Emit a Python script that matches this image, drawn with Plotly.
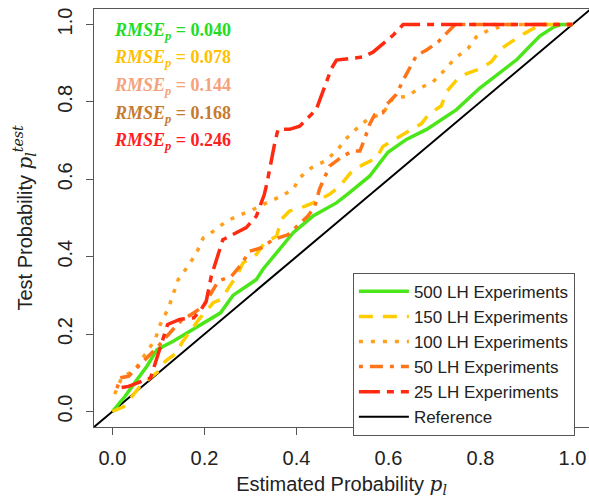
import plotly.graph_objects as go

# ---------------- data ----------------
x_500 = [0.0, 0.028, 0.054, 0.075, 0.097, 0.133, 0.162, 0.198, 0.235, 0.262, 0.313, 0.327,
         0.364, 0.393, 0.436, 0.487, 0.516, 0.559, 0.599, 0.639, 0.683, 0.748, 0.798, 0.835,
         0.88, 0.9, 0.929, 0.96, 0.975, 1.0]
y_500 = [0.0, 0.04, 0.083, 0.117, 0.16, 0.182, 0.203, 0.229, 0.255, 0.3, 0.341, 0.367,
         0.42, 0.462, 0.505, 0.539, 0.566, 0.608, 0.67, 0.703, 0.729, 0.78, 0.835, 0.869,
         0.91, 0.935, 0.97, 0.994, 1.0, 1.0]

x_150 = [0.0, 0.025, 0.06, 0.1, 0.115, 0.14, 0.151, 0.177, 0.188, 0.219, 0.237, 0.255, 0.27,
         0.284, 0.313, 0.331, 0.357, 0.367, 0.385, 0.418, 0.436, 0.472, 0.494, 0.52, 0.545,
         0.574, 0.588, 0.614, 0.639, 0.672, 0.686, 0.715, 0.726, 0.748, 0.77, 0.8, 0.824,
         0.846, 0.867, 0.896, 0.922, 0.94, 1.0]
y_150 = [0.0, 0.013, 0.065, 0.104, 0.13, 0.152, 0.178, 0.22, 0.238, 0.281, 0.29, 0.324, 0.35,
         0.384, 0.406, 0.436, 0.453, 0.496, 0.518, 0.53, 0.539, 0.561, 0.582, 0.62, 0.638,
         0.655, 0.685, 0.703, 0.72, 0.744, 0.766, 0.79, 0.826, 0.856, 0.873, 0.886, 0.904,
         0.938, 0.955, 0.977, 0.994, 1.0, 1.0]

x_100 = [0.005, 0.02, 0.032, 0.05, 0.061, 0.093, 0.104, 0.122, 0.143, 0.164, 0.183, 0.197,
         0.222, 0.248, 0.28, 0.306, 0.335, 0.364, 0.393, 0.407, 0.433, 0.462, 0.487, 0.509,
         0.53, 0.556, 0.588, 0.61, 0.639, 0.668, 0.697, 0.722, 0.744, 0.773, 0.791, 0.817,
         0.86, 1.0]
y_100 = [0.045, 0.087, 0.096, 0.109, 0.13, 0.186, 0.225, 0.268, 0.341, 0.375, 0.41, 0.448,
         0.468, 0.492, 0.509, 0.522, 0.539, 0.555, 0.574, 0.604, 0.63, 0.647, 0.673, 0.706,
         0.73, 0.756, 0.77, 0.81, 0.814, 0.835, 0.852, 0.882, 0.912, 0.938, 0.968, 0.985,
         1.0, 1.0]

x_50 = [0.01, 0.017, 0.035, 0.05, 0.09, 0.1, 0.13, 0.15, 0.177, 0.198, 0.23, 0.259, 0.28,
        0.298, 0.324, 0.349, 0.382, 0.403, 0.425, 0.44, 0.45, 0.472, 0.501, 0.523, 0.538,
        0.548, 0.559, 0.57, 0.588, 0.596, 0.617, 0.632, 0.646, 0.661, 0.683, 0.708, 0.726,
        0.745, 1.0]
y_50 = [0.06, 0.087, 0.091, 0.109, 0.156, 0.169, 0.21, 0.235, 0.255, 0.272, 0.337, 0.35, 0.38,
        0.414, 0.423, 0.444, 0.457, 0.479, 0.505, 0.53, 0.574, 0.634, 0.66, 0.673, 0.673,
        0.703, 0.742, 0.767, 0.772, 0.793, 0.819, 0.856, 0.886, 0.92, 0.934, 0.955, 0.977,
        1.0, 1.0]

x_25 = [0.02, 0.035, 0.083, 0.12, 0.146, 0.177, 0.193, 0.204, 0.215, 0.233, 0.24, 0.291,
        0.313, 0.33, 0.336, 0.353, 0.36, 0.385, 0.407, 0.443, 0.454, 0.476, 0.487, 0.545,
        0.567, 0.61, 0.632, 1.0]
y_25 = [0.062, 0.065, 0.087, 0.225, 0.238, 0.242, 0.264, 0.285, 0.35, 0.414, 0.444, 0.475,
        0.505, 0.56, 0.59, 0.694, 0.729, 0.729, 0.737, 0.78, 0.815, 0.886, 0.908, 0.916,
        0.929, 0.972, 1.0, 1.0]

x_ref = [-0.1, 1.1]
y_ref = [-0.1, 1.1]

series_names = ["500 LH Experiments", "150 LH Experiments", "100 LH Experiments",
                "50 LH Experiments", "25 LH Experiments"]
rmse_values = ["0.040", "0.078", "0.144", "0.168", "0.246"]
tick_vals = [0.0, 0.2, 0.4, 0.6, 0.8, 1.0]
tick_text = ["0.0", "0.2", "0.4", "0.6", "0.8", "1.0"]

# ---------------- styles ----------------
line_colors = ["#4be619", "#ffcc00", "#ff9f1c", "#ff7418", "#ff2a10"]
dashes = ["solid", "14px,10px", "4px,8px", "4px,7px,13px,7px", "21px,7px,7px,7px"]
rmse_colors = ["#22dd22", "#ffc000", "#f5a27c", "#c77a2e", "#ff2020"]

xs = [x_500, x_150, x_100, x_50, x_25]
ys = [y_500, y_150, y_100, y_50, y_25]

fig = go.Figure()

fig.add_trace(go.Scatter(x=x_ref, y=y_ref, mode="lines", name="Reference",
                         line=dict(color="black", width=2), legendrank=1000))

for i in range(5):
    fig.add_trace(go.Scatter(x=xs[i], y=ys[i], mode="lines", name=series_names[i],
                             line=dict(color=line_colors[i], width=3.5, dash=dashes[i]),
                             legendrank=i + 1))

ann_y = [0.982, 0.913, 0.84, 0.767, 0.697]
for i in range(5):
    fig.add_annotation(
        x=0.0, y=ann_y[i], xref="x", yref="y", xanchor="left", yanchor="middle",
        text="<b><i>RMSE</i><sub><i>p</i></sub> = " + rmse_values[i] + "</b>",
        showarrow=False,
        font=dict(family="Liberation Serif", size=18, color=rmse_colors[i]),
    )

axis_font = dict(family="Liberation Sans, Arial", size=20, color="#222")

fig.update_layout(
    width=589, height=498,
    margin=dict(l=94, r=0, t=9, b=71),
    paper_bgcolor="white", plot_bgcolor="white",
    showlegend=True,
    legend=dict(
        x=0.523, y=0.369, xanchor="left", yanchor="top",
        bgcolor="white", bordercolor="#555", borderwidth=1,
        font=dict(family="Liberation Sans, Arial", size=17, color="#222"),
        tracegroupgap=0, itemwidth=50,
    ),
    xaxis=dict(
        range=[-0.04, 1.036], showgrid=False, zeroline=False,
        showline=True, linecolor="#555", linewidth=1, mirror=True,
        ticks="outside", ticklen=7, tickcolor="#555",
        tickvals=tick_vals, ticktext=tick_text, tickfont=axis_font,
        ticklabelstandoff=6,
        title=dict(text="Estimated Probability <span style='font-family:DejaVu Serif'><i>p<sub>l</sub></i></span>",
                   font=axis_font, standoff=8),
    ),
    yaxis=dict(
        range=[-0.04, 1.04], showgrid=False, zeroline=False,
        showline=True, linecolor="#555", linewidth=1, mirror=False,
        ticks="outside", ticklen=7, tickcolor="#555",
        tickvals=tick_vals, ticktext=tick_text, tickfont=axis_font,
        tickangle=-90, ticklabelstandoff=6,
        title=dict(text="Test Probability <span style='font-family:DejaVu Serif'><i>p<sub>l</sub><sup>test</sup></i></span>",
                   font=axis_font, standoff=16),
    ),
)

fig.write_html("out.html")
